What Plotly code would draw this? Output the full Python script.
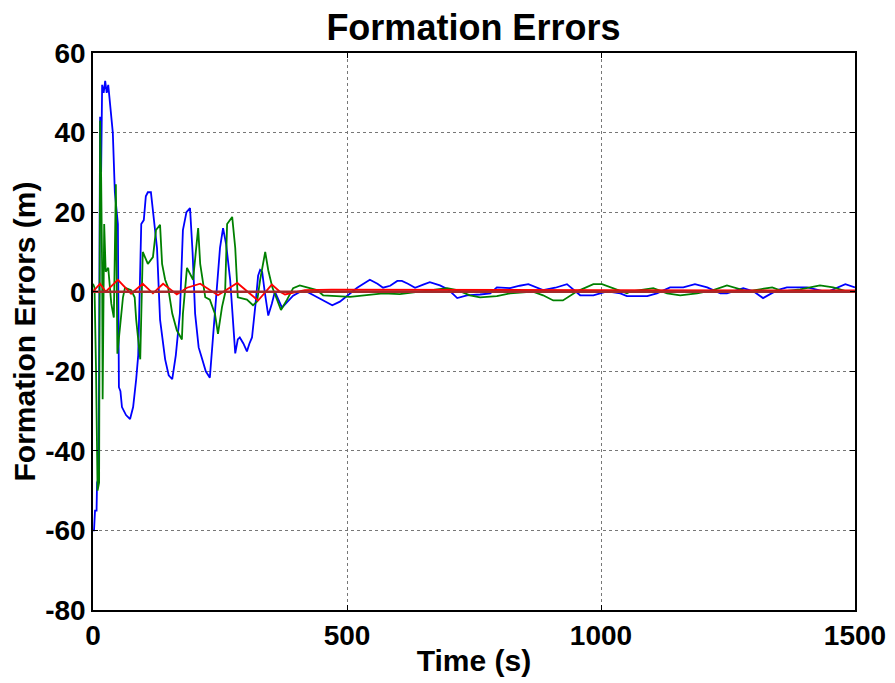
import plotly.graph_objects as go

# ---- data ----
blue_t = [0, 2, 4, 7, 8, 11, 14, 16, 18, 21, 24, 27, 30, 34, 39, 43, 46, 49, 51, 54, 57, 65, 73, 79, 85, 89,
          95, 100, 104, 108, 114, 120, 126, 132, 142, 149, 156, 163, 171, 177, 184, 191, 196, 201, 208, 215,
          222, 230, 240, 250, 256, 262, 270, 280, 285, 289, 296, 303, 308, 313, 320, 325, 329, 333, 338, 345,
          352, 358, 365, 372, 383, 394, 408, 421, 436, 451, 471, 486, 500, 520, 545, 560, 571, 585, 599, 608,
          620, 634, 650, 663, 683, 700, 717, 736, 762, 782, 795, 821, 840, 857, 886, 910, 933, 959, 985, 1012,
          1038, 1051, 1091, 1110, 1136, 1162, 1185, 1209, 1235, 1248, 1280, 1300, 1319, 1347, 1366, 1406, 1445,
          1481, 1500]
blue_v = [-60, -60, -55, -55, -48, -47, 44, 30, 52, 50, 53, 50, 52, 46, 40, 25, 20, 17, -24, -25, -29, -31, -32,
          -29, -22, -16, 17, 18, 24, 25, 25, 18, 11, -7, -17, -21, -22, -16, -5.5, 15.5, 20, 21, 10, -5.5, -14,
          -17, -20, -21.6, -5, 11, 16, 12, 3, -15.5, -12, -11.5, -13, -15, -13, -11.5, -3, 4, 5.5, 5, 0, -6,
          -3, 0, -2, -4, -2.5, -1, 0, 0, -1, -2, -3.4, -2.5, -1, 1, 3, 2, 1, 1.5, 2.7, 2.7,
          2, 1, 1.8, 2.4, 1.6, 0.5, -1.6, -0.9, -0.7, -0.4, 1.1, 0.9, 1.5, 1.9, 0.4, 1, 1.9, -0.9, -0.9, 0.1,
          -0.4, -1.1, -1.1, -0.4, 1.1, 1.1, 1.9, 1.1, -0.4, -0.4, 0.9, 0.1, -1.6, 0.4, 1.1, 1.1, -0.1,
          1.9, 1.1]

green_t = [0, 3, 6, 9, 12, 14, 16, 18, 19, 22, 25, 30, 36, 41, 45, 48, 59, 63, 75, 82, 85, 93, 98, 108, 118,
           124, 132, 136, 142, 148, 156, 165, 175, 177, 185, 197, 207, 211, 221, 230, 240, 246, 254, 260, 264,
           274, 280, 285, 303, 315, 323, 329, 339, 345, 353, 362, 370, 382, 394, 407, 427, 441, 453, 506, 571,
           604, 697, 717, 742, 762, 795, 821, 866, 886, 906, 925, 953, 985, 1002, 1024, 1051, 1057, 1091, 1103,
           1130, 1156, 1189, 1221, 1248, 1268, 1288, 1313, 1337, 1358, 1392, 1431, 1457, 1485, 1500]
green_v = [2, 1, -20, -50, -48, 43, 29, 5, -27, 17, 5, 6, -3, -6.5, 27, -15.6, -1.4, 1, 0.4, -1.4, -7, -17, 10,
           7, 8.7, 15.5, 16.8, 7, 3, 1, -5.5, -9.7, -12, -5.5, 6, 3, 16, 7, -1.4, -2, -5.5, -10.6, -3.8, -0.4,
           17, 18.8, 11, -1.4, -2, -3.4, -2.5, 3, 10, 5.4, 1.1, -2, -4.6, -2, 0.9, 1.6, 0.9, 0.4, -0.9, -1.3,
           -0.4, -0.6, 0.9, 0.4, -0.9, -1.4, -1.1, -0.4, 0, -0.9, -2.2, -2.2, 0.1, 1.9, 1.9, 0.9, -0.4, 0, 0.6,
           0.9, -0.4, -0.9, -0.4, 0.4, 1.6, 0.9, 0.1, 0.6, 1.1, 0.1, 0.6, 1.6, 1.1, 0, -0.1]

red_t = [0, 14, 25, 49, 75, 98, 118, 138, 165, 185, 211, 246, 284, 325, 352, 368, 378, 401, 417, 470, 750,
         760, 1000, 1500]
red_v = [0, 2, 0, 3, -0.5, 2, -0.4, 2, -0.7, 1, 2, -0.9, 2.2, -2.2, 1.8, 0, -0.7, 0, 0.4, 0.5, 0.5, 0.4,
         0.4, 0.3]

ref_t = [0, 1500]
ref_v = [0, 0]

x_ticks = [0, 500, 1000, 1500]
x_labels = ["0", "500", "1000", "1500"]
y_ticks = [-80, -60, -40, -20, 0, 20, 40, 60]
y_labels = ["-80", "-60", "-40", "-20", "0", "20", "40", "60"]

FONT = "Liberation Sans, Arial, sans-serif"

fig = go.Figure()
fig.add_trace(go.Scatter(x=blue_t, y=blue_v, mode="lines", line=dict(color="#0000ff", width=1.8),
                         showlegend=False))
fig.add_trace(go.Scatter(x=green_t, y=green_v, mode="lines", line=dict(color="#008000", width=1.8),
                         showlegend=False))
fig.add_trace(go.Scatter(x=red_t, y=red_v, mode="lines", line=dict(color="#ff0000", width=1.8),
                         showlegend=False))
fig.add_trace(go.Scatter(x=ref_t, y=ref_v, mode="lines", line=dict(color="#a52a2a", width=2.5),
                         showlegend=False))

axis_common = dict(
    showline=True, linecolor="black", linewidth=1.5, mirror="ticks",
    ticks="inside", ticklen=5, tickcolor="black",
    showgrid=True, gridcolor="#777777", griddash="dot", gridwidth=1,
    zeroline=False, automargin=False,
    tickfont=dict(family=FONT, size=28, color="black", weight="bold"),
)

fig.update_layout(
    width=895, height=683,
    paper_bgcolor="white", plot_bgcolor="white",
    margin=dict(l=85, r=48, t=45, b=81),
    title=dict(text="Formation Errors", x=0.52, xanchor="center", y=0.972, yanchor="middle",
               font=dict(family=FONT, size=36, color="black", weight="bold")),
    xaxis=dict(range=[0, 1500], tickvals=x_ticks, ticktext=x_labels,
               title=dict(text="Time (s)", standoff=0,
                          font=dict(family=FONT, size=30, color="black", weight="bold")),
               **axis_common),
    yaxis=dict(range=[-80, 60], tickvals=y_ticks, ticktext=y_labels,
               title=dict(text="Formation Errors (m)", standoff=2,
                          font=dict(family=FONT, size=30, color="black", weight="bold")),
               **axis_common),
)

fig.write_html("out.html")
